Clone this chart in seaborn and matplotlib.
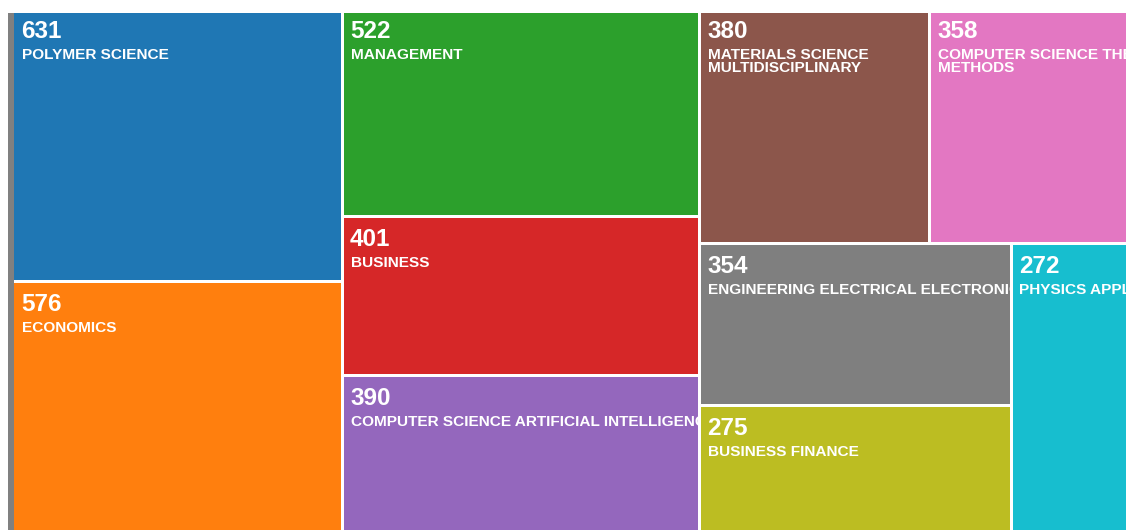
import matplotlib
matplotlib.use("Agg")
import matplotlib.pyplot as plt
from matplotlib.patches import Rectangle
import seaborn as sns

# ---- data ----
categories = [
    "POLYMER SCIENCE",
    "ECONOMICS",
    "MANAGEMENT",
    "BUSINESS",
    "COMPUTER SCIENCE ARTIFICIAL INTELLIGENCE",
    "MATERIALS SCIENCE\nMULTIDISCIPLINARY",
    "COMPUTER SCIENCE THEORY\nMETHODS",
    "ENGINEERING ELECTRICAL ELECTRONIC",
    "BUSINESS FINANCE",
    "PHYSICS APPLIED",
]
values = [631, 576, 522, 401, 390, 380, 358, 354, 275, 272]

sns.set_theme(style="white")
plt.rcParams["font.family"] = ["Liberation Sans", "DejaVu Sans"]
colors = sns.color_palette("tab10", len(values))


def squarify(vals, x0, y0, x1, y1, ratio=1.5):
    """d3-style squarified treemap; returns list of (x, y, w, h)."""
    out = [None] * len(vals)
    n = len(vals)
    value = float(sum(vals))
    i0 = i1 = 0
    while i0 < n:
        dx, dy = x1 - x0, y1 - y0
        s = vals[i1]; i1 += 1
        mn = mx = s
        alpha = max(dy / dx, dx / dy) / (value * ratio)
        beta = s * s * alpha
        best = max(mx / beta, beta / mn)
        while i1 < n:
            v = vals[i1]
            s2 = s + v
            mn2, mx2 = min(mn, v), max(mx, v)
            beta = s2 * s2 * alpha
            r = max(mx2 / beta, beta / mn2)
            if r > best:
                break
            s, mn, mx, best = s2, mn2, mx2, r
            i1 += 1
        row = list(range(i0, i1))
        if dx < dy:  # horizontal row across the top
            hgt = dy * s / value
            cx = x0
            for j in row:
                w = dx * vals[j] / s
                out[j] = (cx, y0, w, hgt)
                cx += w
            y0 += hgt
        else:  # vertical column on the left
            wid = dx * s / value
            cy = y0
            for j in row:
                h = dy * vals[j] / s
                out[j] = (x0, cy, wid, h)
                cy += h
            x0 += wid
        value -= s
        i0 = i1
    return out


FW, FH = 1126, 530
fig = plt.figure(figsize=(FW / 100, FH / 100), dpi=100)
fig.patch.set_facecolor("white")
top_crop = 13
ax = fig.add_axes([0, 0, 1, (FH - top_crop) / FH])
ax.set_xlim(0, FW)
ax.set_ylim(FH, top_crop)
ax.axis("off")

LX0, LY0, LW, LH = 14, 8.5, 1132, 522
rects = squarify(values, LX0, LY0, LX0 + LW, LY0 + LH)

# gray strip on the left
ax.add_patch(Rectangle((8, top_crop), 6, FH - top_crop, facecolor="#808080",
                       edgecolor="none", zorder=0))

g = 1.5
for (x, y, w, h), val, name, col in zip(rects, values, categories, colors):
    l = x if abs(x - LX0) < 1e-6 else x + g
    t = y if abs(y - LY0) < 1e-6 else y + g
    r = x + w if abs(x + w - (LX0 + LW)) < 1e-6 else x + w - g
    b = y + h if abs(y + h - (LY0 + LH)) < 1e-6 else y + h - g
    patch = Rectangle((l, t), r - l, b - t, facecolor=col, edgecolor="none", zorder=1)
    ax.add_patch(patch)
    texts = [ax.text(x + 7.5, y + 29.5, str(val), color="white", fontsize=17.5,
                     fontweight="bold", ha="left", va="baseline", zorder=3,
                     clip_on=True)]
    for k, line in enumerate(name.split("\n")):
        texts.append(ax.text(x + 8, y + 50.5 + 13.5 * k, line, color="white",
                             fontsize=11.1, fontweight="bold", ha="left",
                             va="baseline", zorder=3, clip_on=True))
    for tt in texts:
        tt.set_clip_path(patch)

fig.savefig("out.png", dpi=100, facecolor="white")
